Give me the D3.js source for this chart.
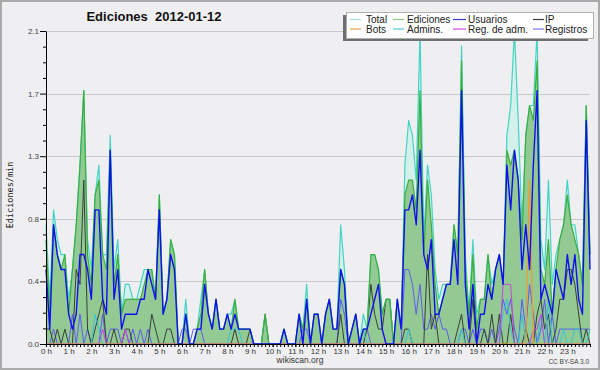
<!DOCTYPE html>
<html>
<head>
<meta charset="utf-8">
<script src="https://cdnjs.cloudflare.com/ajax/libs/d3/7.8.5/d3.min.js"></script>
<style>
  body { margin: 0; background: #fff; }
  svg { display: block; }
</style>
</head>
<body>
<svg></svg>
<script>
// edits per minute, one value every 10 minutes (0:00 .. 24:00)
const total = [
  0.8,0.3,0.9,0.7,0.6,0.6,0.3,0.5,0.8,1.2,1.7,0.7,0.5,1.0,1.2,0.6,0.6,1.4,0.5,0.7,0.2,0.4,0.4,0.3,
  0.3,0.4,0.5,0.5,0.5,0.3,1.0,0.2,0.3,0.7,0.6,0,0,0.3,0,0,0.1,0.3,0.5,0.2,0.1,0.3,0.1,0.1,
  0.2,0.2,0.3,0.1,0.1,0.1,0.1,0,0,0,0.2,0,0,0,0,0.1,0,0,0,0.2,0.1,0.4,0,0.2,
  0.2,0,0.2,0.3,0.1,0.1,0.8,0.5,0,0.1,0.2,0,0.2,0.1,0.6,0.6,0.5,0.2,0.3,0.3,0,0.3,0.1,1.2,
  1.5,1.4,1.1,2.1,0.7,1.2,1.0,0.5,0.3,0.4,0.4,0.4,0.8,0.6,2.0,0.6,0.2,0.7,0.2,0.3,0.3,0.6,0.4,0.5,
  0.6,0.4,1.4,1.6,2.1,1.5,0.8,1.4,1.6,1.6,2.1,0.7,0.5,1.1,0.4,0.6,0.7,0.8,1.1,0.8,0.8,0.6,0.4,1.6,0.6
];
const ediciones = [
  0.7,0.2,0.8,0.6,0.5,0.6,0.2,0.5,0.8,1.2,1.7,0.6,0.4,1.0,1.1,0.6,0.5,1.3,0.4,0.6,0.2,0.3,0.3,0.3,
  0.3,0.3,0.4,0.5,0.5,0.3,1.0,0.2,0.3,0.7,0.6,0,0,0.2,0,0,0.1,0.2,0.5,0.2,0.1,0.3,0.1,0.1,
  0.2,0.1,0.3,0.1,0.1,0.1,0.1,0,0,0,0.2,0,0,0,0,0.1,0,0,0,0.2,0.1,0.3,0,0.2,
  0.2,0,0.2,0.3,0.1,0.1,0.5,0.4,0,0.1,0.2,0,0.1,0.1,0.6,0.6,0.5,0.2,0.3,0.3,0,0.3,0.1,1.0,
  1.1,1.1,0.9,1.7,0.6,1.1,0.8,0.4,0.2,0.3,0.4,0.4,0.8,0.6,1.9,0.5,0.2,0.6,0.1,0.3,0.3,0.6,0.3,0.5,
  0.6,0.4,1.3,1.2,1.3,1.1,0.7,1.4,1.6,1.5,1.9,0.5,0.4,0.7,0.2,0.5,0.7,0.8,1.0,0.8,0.7,0.6,0.4,1.6,0.6
];
const usuarios = [
  0.5,0.1,0.8,0.6,0.5,0.5,0.2,0.1,0.2,0.6,0.6,0.5,0.3,0.9,0.9,0.3,0.2,1.3,0.3,0.5,0.1,0.2,0.2,0.2,
  0.2,0.3,0.3,0.5,0.4,0.3,0.9,0.2,0.3,0.6,0.5,0,0,0.2,0,0,0.1,0.1,0.4,0.2,0.1,0.3,0.1,0.1,
  0.2,0.1,0.2,0.1,0.1,0.1,0.1,0,0,0,0,0,0,0,0,0.1,0,0,0,0.2,0,0.3,0,0.2,
  0.2,0,0.2,0.3,0.1,0.1,0.5,0.4,0,0.1,0.2,0,0.1,0.1,0.2,0.3,0.4,0.1,0,0,0,0.3,0.1,0.9,
  0.9,1.0,0.8,1.3,0.6,0.5,0.7,0.2,0.2,0.3,0.4,0.4,0.7,0.4,1.7,0.4,0.1,0.4,0,0.2,0.2,0.4,0.3,0.5,
  0.6,0.4,1.2,0.9,1.3,1.1,0.5,0.8,0.5,1.2,1.7,0.3,0.4,0.3,0.2,0.5,0.4,0.3,0.6,0.4,0.6,0.3,0.2,1.5,0.5
];
const ip = [
  0.1,0.1,0,0.1,0,0.1,0,0,0.5,0.4,1.1,0.1,0,0.1,0.2,0.3,0,0,0.1,0,0,0.1,0.1,0,
  0,0,0,0,0.2,0.1,0,0,0.1,0.1,0,0,0,0,0,0,0,0,0,0,0,0,0,0,
  0,0,0.1,0,0,0,0.1,0,0,0,0.2,0,0,0,0,0,0,0,0,0,0,0,0,0,
  0,0,0,0,0,0,0.2,0,0,0,0,0,0,0.1,0.4,0.2,0.1,0.1,0.3,0.3,0,0,0,0.1,
  0.1,0,0,0,0,0.6,0.1,0.2,0,0,0,0,0,0.1,0.2,0,0,0.3,0,0,0.1,0,0.2,0,
  0.2,0,0,0.2,0,0,0,0.1,0,0,0.2,0.3,0.1,0.2,0,0.1,0.3,0.3,0.5,0.5,0.4,0.2,0,0.1,0
];
const bots = [
  0,0,0,0,0,0,0,0,0,0,0,0,0,0,0,0,0,0,0,0,0,0,0,0,
  0,0,0,0,0,0,0,0,0,0,0,0,0,0,0,0,0,0,0,0,0,0,0,0,
  0,0,0,0,0,0,0,0,0,0,0,0,0,0,0,0,0,0,0,0,0,0,0,0,
  0,0,0,0,0,0,0,0,0,0,0,0,0,0,0,0,0,0,0,0,0,0,0,0,
  0,0,0,0,0,0,0,0,0,0,0,0,0,0,0,0,0,0,0,0,0,0,0,0,
  0,0,0,0,0,0,0,0,1.1,0,0,0,0,0,0,0,0,0,0,0,0,0,0,0,0
];
const admins = [
  0,0,0,0,0,0,0,0,0,0,0,0,0,0.2,0.1,0,0,0,0,0,0,0,0,0,
  0,0,0,0,0,0,0,0,0,0,0,0,0,0,0,0,0,0,0,0,0,0,0,0,
  0,0.1,0.1,0.1,0,0,0,0,0,0,0,0,0,0,0,0,0,0,0,0,0,0,0,0,
  0,0,0,0,0,0,0,0,0,0,0,0,0.1,0,0,0,0,0,0,0,0,0,0,0,
  0.1,0,0,0,0,0,0,0,0,0,0,0,0,0,0.1,0,0,0,0,0,0,0,0,0,
  0,0.2,0.3,0.1,0,0,0.2,0,0,0,0,0.2,0,0.3,0,0,0,0.1,0,0,0.1,0.1,0,0,0.1
];
const regAdm = [
  0,0,0,0,0,0,0,0,0,0,0,0,0,0,0,0.1,0,0,0,0,0,0.1,0,0,
  0,0,0,0,0,0,0,0,0,0,0,0,0,0,0,0,0,0,0,0,0,0,0,0,
  0,0,0,0,0,0,0,0,0,0,0,0,0,0,0,0,0,0,0,0,0,0,0,0,
  0,0,0,0,0,0,0,0,0,0,0,0,0,0,0,0,0,0,0,0,0,0,0,0,
  0,0,0,0,0,0,0,0,0,0,0,0,0,0,0,0,0,0,0,0,0,0,0,0,
  0,0.4,0.4,0.4,0,0,0,0,0,0.1,0.1,0.2,0,0,0,0,0,0,0,0,0,0,0,0,0
];
const registros = [
  0,0,0.1,0,0,0,0,0.2,0,0.2,0,0.1,0,0,0,0.2,0,0.1,0.1,0.1,0,0.1,0,0.1,
  0,0.1,0,0.1,0,0,0,0,0,0,0,0,0.1,0.1,0,0.1,0.1,0.1,0,0,0,0,0,0,
  0,0,0,0,0,0,0,0,0,0,0,0,0,0,0,0,0,0,0,0,0.1,0.1,0,0,
  0,0,0,0,0,0,0.3,0.2,0,0,0,0,0.1,0.1,0,0,0,0,0,0,0,0,0,0.5,
  0.5,0.4,0.2,0.4,0.1,0.1,0.2,0.1,0.2,0.1,0.1,0,0,0,0.1,0.1,0,0.1,0,0.1,0.1,0,0.1,0,
  0.1,0.3,0.2,0.3,0.1,0,0.3,0.1,0.4,0.2,0,0.1,0.3,0,0.2,0,0.1,0.1,0.1,0.1,0.1,0.1,0.1,0.1,0.1
];

const hourLabels = ["0 h","1 h","2 h","3 h","4 h","5 h","6 h","7 h","8 h","9 h","10 h","11 h",
  "12 h","13 h","14 h","15 h","16 h","17 h","18 h","19 h","20 h","21 h","22 h","23 h"];
const yTicks = [0, 0.42, 0.84, 1.26, 1.68, 2.1];
const yTickLabels = ["0.0", "0.4", "0.8", "1.3", "1.7", "2.1"];
const yMinor = [0.105, 0.21, 0.315, 0.525, 0.63, 0.735, 0.945, 1.05, 1.155, 1.365, 1.47, 1.575, 1.785, 1.89, 1.995];

const legendItems = [
  { name: "Total", color: "#a6e2da" },
  { name: "Ediciones", color: "#86cf86" },
  { name: "Usuarios", color: "#3a3ad6" },
  { name: "IP", color: "#3c3c3c" },
  { name: "Bots", color: "#f0a040" },
  { name: "Admins.", color: "#4cc8d8" },
  { name: "Reg. de adm.", color: "#d24ee2" },
  { name: "Registros", color: "#7a7aea" },
];

const width = 600;
const height = 370;
const plotLeft = 46, plotRight = 590, plotTop = 31, plotBottom = 344;
const font = "'Liberation Sans', Arial, sans-serif";

const svg = d3.select("svg").attr("width", width).attr("height", height);

let xScale, yScale;

const drawCanvas = () => {
  svg.append("rect")
    .attr("x", 1).attr("y", 1)
    .attr("width", width - 2).attr("height", height - 2)
    .attr("fill", "#efeff1")
    .attr("stroke", "#aaaaaa")
    .attr("stroke-width", 2);
};

const generateScales = () => {
  xScale = d3.scaleLinear().domain([0, 24]).range([plotLeft, plotRight]);
  yScale = d3.scaleLinear().domain([0, 2.1]).range([plotBottom, plotTop]);
};

const drawGrid = () => {
  svg.append("g")
    .selectAll("line")
    .data(yTicks.slice(1))
    .enter()
    .append("line")
    .attr("x1", plotLeft).attr("x2", plotRight)
    .attr("y1", (d) => Math.round(yScale(d)) + 0.5)
    .attr("y2", (d) => Math.round(yScale(d)) + 0.5)
    .attr("stroke", "#c9c9cb")
    .attr("stroke-width", 1);
};

const xOf = (d, i) => xScale(i / 6);

const drawArea = (data, fill) => {
  const area = d3.area().x(xOf).y0(yScale(0)).y1((d) => yScale(d));
  svg.append("path").datum(data).attr("d", area).attr("fill", fill);
};

const drawLine = (data, color, w) => {
  const line = d3.line().x(xOf).y((d) => yScale(d));
  svg.append("path")
    .datum(data)
    .attr("d", line)
    .attr("fill", "none")
    .attr("stroke", color)
    .attr("stroke-width", w)
    .attr("stroke-linejoin", "round");
};

const drawSeries = () => {
  drawArea(total, "#d4f0eb");
  drawArea(ediciones, "#93c993");
  drawLine(registros, "#5c5cf0", 1);
  drawLine(ip, "#3a3f3a", 1);
  drawLine(admins, "#34c6d6", 1);
  drawLine(regAdm, "#c844dc", 1);
  drawLine(bots, "#f29a2c", 1.2);
  drawLine(total, "#44d4c4", 1.2);
  drawLine(ediciones, "#3cae3c", 1.2);
  drawLine(usuarios, "#1010ee", 1.4);
};

const generateAxes = () => {
  const yAxis = d3.axisLeft(yScale)
    .tickValues(yTicks)
    .tickFormat((d, i) => yTickLabels[i])
    .tickSize(6)
    .tickSizeOuter(0)
    .tickPadding(1);
  const gy = svg.append("g").attr("transform", `translate(${plotLeft}, 0)`).call(yAxis);
  gy.selectAll("text").attr("font-family", font).attr("font-size", 8).attr("fill", "#444");

  const yMinorAxis = d3.axisLeft(yScale).tickValues(yMinor).tickSize(3).tickFormat("");
  const gym = svg.append("g").attr("transform", `translate(${plotLeft}, 0)`).call(yMinorAxis);
  gym.select(".domain").remove();

  const xMinorAxis = d3.axisBottom(xScale)
    .tickValues(d3.range(0, 145).map((i) => i / 6))
    .tickSize(3)
    .tickSizeOuter(0)
    .tickFormat("");
  svg.append("g").attr("transform", `translate(0, ${plotBottom})`).call(xMinorAxis);

  const xAxis = d3.axisBottom(xScale)
    .tickValues(d3.range(0, 24))
    .tickFormat((d) => hourLabels[d])
    .tickSize(3)
    .tickPadding(1);
  const gx = svg.append("g").attr("transform", `translate(0, ${plotBottom})`).call(xAxis);
  gx.select(".domain").remove();
  gx.selectAll("text").attr("font-family", font).attr("font-size", 8).attr("fill", "#333");
};

const drawTexts = () => {
  svg.append("text")
    .attr("x", 154).attr("y", 21)
    .attr("text-anchor", "middle")
    .attr("font-family", font)
    .attr("font-weight", "bold")
    .attr("font-size", 13)
    .attr("fill", "#111")
    .style("white-space", "pre")
    .text("Ediciones  2012-01-12");

  svg.append("text")
    .attr("transform", "translate(13, 195) rotate(-90)")
    .attr("text-anchor", "middle")
    .attr("font-family", "'DejaVu Sans Mono', monospace")
    .attr("font-size", 8.5)
    .attr("fill", "#222")
    .text("Ediciones/min");

  svg.append("text")
    .attr("x", 300).attr("y", 363)
    .attr("text-anchor", "middle")
    .attr("font-family", font)
    .attr("font-size", 8.5)
    .attr("fill", "#333")
    .text("wikiscan.org");

  svg.append("text")
    .attr("x", 589).attr("y", 364)
    .attr("text-anchor", "end")
    .attr("font-family", font)
    .attr("font-size", 6.5)
    .attr("fill", "#444")
    .text("CC BY-SA 3.0");
};

const drawLegend = () => {
  const lx = 346, ly = 12, lw = 247, lh = 26;
  svg.append("rect")
    .attr("x", lx - 3).attr("y", ly + 3)
    .attr("width", lw - 2).attr("height", lh)
    .attr("fill", "#6e6e6e");
  svg.append("rect")
    .attr("x", lx + 0.5).attr("y", ly + 0.5)
    .attr("width", lw).attr("height", lh)
    .attr("fill", "#ffffff")
    .attr("stroke", "#b0b0b0");

  const colX = [350, 393, 453, 533];
  const colText = [366, 407, 468, 545];
  const swatchW = [11, 11, 13, 11];
  const rowY = [19.5, 29];

  const g = svg.append("g")
    .selectAll("g")
    .data(legendItems)
    .enter()
    .append("g");

  g.append("line")
    .attr("x1", (d, i) => colX[i % 4])
    .attr("x2", (d, i) => colX[i % 4] + swatchW[i % 4])
    .attr("y1", (d, i) => rowY[Math.floor(i / 4)])
    .attr("y2", (d, i) => rowY[Math.floor(i / 4)])
    .attr("stroke", (d) => d.color)
    .attr("stroke-width", 1.2);

  g.append("text")
    .attr("x", (d, i) => colText[i % 4])
    .attr("y", (d, i) => rowY[Math.floor(i / 4)] + 3.6)
    .attr("font-family", font)
    .attr("font-size", 10)
    .attr("fill", "#222")
    .text((d) => d.name);
};

drawCanvas();
generateScales();
drawGrid();
drawSeries();
generateAxes();
drawTexts();
drawLegend();
</script>
</body>
</html>
